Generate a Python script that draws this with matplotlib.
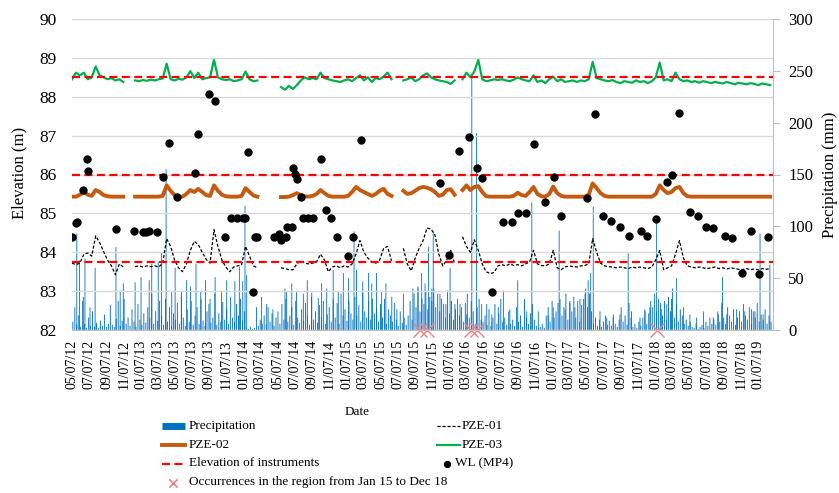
import numpy as np
import pandas as pd
import matplotlib
matplotlib.use('Agg')
import matplotlib.pyplot as plt
import matplotlib.dates as mdates
from matplotlib.lines import Line2D

plt.rcParams['font.family'] = ['Liberation Serif', 'DejaVu Serif']

nan = np.nan
START = '2012-05-07'

# piezometer readings, one every 14 days from START (nan = no record)
pze01 = [83.72, 83.68, 83.72, 83.95, 83.98, 83.90, 84.42, 84.25, 84.02, 83.80, 83.65, 83.42, 83.70, 83.62,
         nan, nan,
         83.63, 83.65, 83.62, 83.65, 83.63, 83.65, 83.62, 83.72, 84.35, 84.15,
         83.80, 83.60, 83.50, 83.70, 84.05, 84.28, 84.20, 84.00, 83.82, 83.72,
         84.58, 84.15, 83.80, 83.62, 83.50, 83.62, 83.65, 83.68, 84.15, 83.90,
         83.65, 83.60,
         nan, nan, nan, nan, nan,
         83.60, 83.58, 83.55, 83.55, 83.70, 83.78, 83.72, 83.70, 83.72, 83.75,
         83.95, 83.80, 83.50, 83.62, 83.65, 83.60, 83.65, 83.62, 83.70, 83.95,
         84.30, 84.00, 83.85, 83.75, 83.72, 83.80, 84.10, 84.15, 83.78,
         nan, nan,
         84.10, 83.70, 83.52, 83.85, 84.10, 84.30, 84.62, 84.60, 84.45, 83.95, 83.65, 83.80, 84.05, 83.70,
         nan,
         84.40, 84.15, 84.00, 84.32, 84.05, 83.70, 83.50, 83.45, 83.48, 83.65,
         83.68, 83.65, 83.70, 83.66, 83.68, 83.65, 83.70, 83.75, 84.05, 83.70,
         83.66, 83.65, 83.70, 84.05, 83.60, 83.55, 83.62, 83.65, 83.63, 83.62,
         83.65, 83.66, 83.70, 84.35, 84.00, 83.72, 83.65, 83.63, 83.62, 83.60,
         83.62, 83.60, 83.58, 83.62, 83.60, 83.62, 83.60, 83.58, 83.62, 83.80,
         84.05, 83.55, 83.60, 83.65, 83.95, 84.30, 83.85, 83.65, 83.62, 83.60,
         83.62, 83.60, 83.58, 83.60, 83.62, 83.58, 83.60, 83.57, 83.60, 83.58,
         83.56, 83.55, 83.58, 83.55, 83.57, 83.55, 83.58, 83.56, 83.58]

pze02 = [85.43, 85.43, 85.48, 85.55, 85.48, 85.45, 85.60, 85.55, 85.47, 85.44, 85.43, 85.43, 85.43, 85.43,
         nan, nan,
         85.43, 85.43, 85.43, 85.43, 85.43, 85.43, 85.43, 85.45, 85.72, 85.58,
         85.47, 85.43, 85.43, 85.50, 85.60, 85.55, 85.63, 85.55, 85.47, 85.45,
         85.72, 85.58, 85.48, 85.44, 85.43, 85.43, 85.43, 85.45, 85.65, 85.55,
         85.46, 85.43,
         nan, nan, nan, nan, nan,
         85.42, 85.42, 85.43, 85.47, 85.52, 85.47, 85.44, 85.43, 85.45, 85.50,
         85.60, 85.52, 85.45, 85.43, 85.43, 85.43, 85.43, 85.45, 85.55, 85.68,
         85.60, 85.55, 85.50, 85.45, 85.50, 85.58, 85.63, 85.50, 85.45,
         nan, nan,
         85.58, 85.50, 85.52, 85.58, 85.65, 85.68, 85.66, 85.62, 85.55, 85.45, 85.48, 85.60, 85.62, 85.48,
         nan,
         85.60, 85.72, 85.60, 85.68, 85.70, 85.55, 85.44, 85.43, 85.43, 85.43,
         85.43, 85.43, 85.43, 85.45, 85.53, 85.47, 85.45, 85.55, 85.68, 85.50,
         85.44, 85.43, 85.50, 85.69, 85.52, 85.45, 85.43, 85.43, 85.43, 85.43,
         85.43, 85.43, 85.48, 85.77, 85.65, 85.52, 85.45, 85.43, 85.43, 85.43,
         85.43, 85.43, 85.43, 85.43, 85.43, 85.43, 85.43, 85.43, 85.43, 85.50,
         85.72, 85.60, 85.52, 85.55, 85.65, 85.68, 85.52, 85.44, 85.43, 85.43,
         85.43, 85.43, 85.43, 85.43, 85.43, 85.43, 85.43, 85.43, 85.43, 85.43,
         85.43, 85.43, 85.43, 85.43, 85.43, 85.43, 85.43, 85.43, 85.43]

pze03 = [88.45, 88.62, 88.55, 88.62, 88.45, 88.50, 88.78, 88.55, 88.50, 88.45, 88.48, 88.42, 88.45, 88.38,
         nan, nan,
         88.42, 88.40, 88.43, 88.41, 88.44, 88.42, 88.45, 88.47, 88.85, 88.45,
         88.42, 88.46, 88.44, 88.50, 88.66, 88.48, 88.62, 88.45, 88.48, 88.50,
         88.95, 88.50, 88.45, 88.43, 88.45, 88.40, 88.42, 88.45, 88.65, 88.45,
         88.40, 88.42,
         nan, nan, nan, nan, nan,
         88.25, 88.18, 88.28, 88.20, 88.30, 88.42, 88.50, 88.45, 88.48, 88.45,
         88.62, 88.48, 88.45, 88.42, 88.40, 88.38, 88.42, 88.45, 88.40, 88.48,
         88.55, 88.42, 88.50, 88.38, 88.48, 88.45, 88.52, 88.62, 88.45,
         nan, nan,
         88.42, 88.45, 88.50, 88.40, 88.45, 88.55, 88.60, 88.50, 88.45, 88.42, 88.40, 88.38, 88.33, 88.42,
         nan,
         88.45, 88.62, 88.50, 88.65, 88.95, 88.45, 88.40, 88.42, 88.45, 88.43,
         88.45, 88.42, 88.40, 88.44, 88.50, 88.45, 88.42, 88.40, 88.55, 88.38,
         88.42, 88.35, 88.45, 88.52, 88.40, 88.45, 88.38, 88.40, 88.42, 88.38,
         88.42, 88.40, 88.45, 88.90, 88.48, 88.45, 88.42, 88.40, 88.43, 88.38,
         88.35, 88.40, 88.38, 88.36, 88.42, 88.38, 88.40, 88.35, 88.40, 88.50,
         88.88, 88.42, 88.45, 88.40, 88.62, 88.45, 88.40, 88.42, 88.38, 88.40,
         88.36, 88.40, 88.38, 88.35, 88.38, 88.36, 88.34, 88.38, 88.35, 88.32,
         88.36, 88.34, 88.32, 88.35, 88.33, 88.30, 88.34, 88.32, 88.30]

# water level in MP4 (days after START, m)
wl_day = [1, 14, 18, 38, 54, 58, 156, 220, 252, 263, 273, 302, 323, 344, 372, 437, 448, 485, 506,
          543, 563, 584, 607, 614, 625, 641, 648, 658, 717, 735, 741, 758, 764, 782, 786, 791, 799,
          812, 821, 838, 854, 884, 900, 920, 942, 981, 996, 1025, 1306, 1338, 1375, 1408, 1436, 1455,
          1489, 1528, 1561, 1582, 1611, 1641, 1680, 1711, 1737, 1829, 1857, 1885, 1913, 1946, 1976,
          2018, 2040, 2073, 2111, 2128, 2155, 2194, 2222, 2249, 2276, 2316, 2342, 2379, 2410, 2437, 2471]
wl_m = [84.40, 84.76, 84.78, 85.60, 86.39, 86.09, 84.61, 84.55, 84.52, 84.53, 84.55, 84.52, 85.94,
        86.80, 85.41, 86.04, 87.04, 88.08, 87.90, 84.40, 84.89, 84.89, 84.89, 84.89, 86.58, 82.98,
        84.40, 84.40, 84.40, 84.46, 84.31, 84.40, 84.64, 84.64, 86.16, 86.02, 85.89, 85.41, 84.89,
        84.89, 84.89, 86.39, 85.08, 84.89, 84.40, 83.90, 84.40, 86.88, 85.79, 83.93, 86.61, 86.96,
        86.17, 85.92, 82.98, 84.79, 84.77, 85.00, 85.01, 86.78, 85.28, 85.94, 84.94, 85.40, 87.56,
        84.94, 84.80, 84.66, 84.42, 84.54, 84.42, 84.86, 85.81, 85.98, 87.57, 85.04, 84.92, 84.65,
        84.62, 84.42, 84.37, 83.47, 84.55, 83.43, 84.40]

# heavy rain days (days after START, mm)
rain_day = [17, 27, 40, 46, 64, 82, 156, 171, 182, 224, 245, 274, 283, 306, 318, 334, 354, 366, 389,
            407, 421, 440, 457, 474, 490, 508, 531, 549, 578, 594, 606, 614, 620, 655, 673, 691, 713,
            756, 762, 780, 797, 821, 835, 851, 874, 886, 904, 927, 945, 963, 981, 1001, 1010, 1032,
            1052, 1064, 1081, 1099, 1114, 1135, 1153, 1176, 1210, 1228, 1241, 1253, 1265, 1277, 1282,
            1306, 1327, 1342, 1359, 1377, 1401, 1419, 1436, 1454, 1472, 1490, 1513, 1531, 1554, 1582,
            1614, 1632, 1655, 1690, 1708, 1729, 1750, 1767, 1785, 1803, 1821, 1832, 1841, 1850, 1874,
            1898, 1921, 1945, 1974, 1986, 2016, 2034, 2051, 2075, 2093, 2111, 2128, 2146, 2170, 2193,
            2217, 2241, 2276, 2294, 2309, 2324, 2359, 2388, 2412, 2424, 2442, 2453, 2477]
rain_mm = [93, 67, 32, 69, 22, 60, 80, 38, 45, 46, 51, 48, 64, 66, 75, 155, 37, 60, 37,
           48, 42, 64, 38, 48, 30, 51, 38, 48, 47, 61, 47, 120, 53, 22, 32, 25, 20,
           40, 37, 45, 37, 35, 48, 36, 31, 45, 40, 58, 37, 55, 50, 95, 58, 47,
           55, 45, 55, 37, 45, 32, 20, 35, 40, 42, 55, 45, 80, 40, 95,
           35, 25, 60, 25, 25, 15, 245, 190, 25, 25, 15, 22, 38, 20, 48,
           18, 123, 18, 14, 22, 96, 20, 28, 22, 30, 35, 48, 55, 119, 18,
           12, 15, 15, 74, 18, 12, 18, 22, 106, 20, 25, 30, 50, 22, 15,
           12, 18, 12, 15, 51, 15, 20, 18, 20, 18, 93, 15, 63]

# lighter rain, one value per week from day 3
rain_week = [8, 22, 5, 14, 3, 28, 6, 2, 12, 4, 18, 3, 7,
             2, 9, 4, 15, 3, 6, 24, 5, 3, 11, 28, 4, 9,
             30, 6, 12, 4, 20, 8, 3, 25, 10, 5, 16, 7, 22,
             12, 35, 6, 18, 9, 28, 14, 5, 30, 8, 22, 4, 16,
             10, 26, 6, 33, 12, 4, 20, 8, 28, 5, 14, 22, 6,
             30, 9, 4, 18, 25, 7, 12, 35, 5, 16, 8, 27, 10,
             20, 6, 32, 12, 8, 25, 14, 30, 9, 18, 2, 1, 3,
             1, 2, 0, 4, 10, 6, 14, 5, 22, 8, 16, 4, 12,
             18, 6, 25, 10, 30, 8, 14, 22, 5, 28, 12, 7, 20,
             9, 26, 14, 5, 32, 10, 18, 7, 24, 12, 28, 6, 15,
             22, 8, 30, 12, 26, 6, 35, 14, 20, 9, 28, 16, 10,
             32, 14, 24, 8, 36, 18, 12, 28, 10, 30, 16, 22, 8,
             25, 12, 30, 6, 20, 14, 8, 26, 10, 4, 18, 7, 12,
             5, 14, 28, 10, 35, 22, 40, 18, 30, 25, 38, 20, 32,
             28, 40, 22, 35, 18, 30, 25, 12, 38, 16, 28, 10, 20,
             30, 14, 22, 8, 26, 35, 12, 28, 18, 6, 22, 30, 10,
             8, 14, 5, 20, 4, 12, 25, 6, 16, 30, 8, 12, 5,
             18, 6, 10, 4, 22, 8, 14, 3, 30, 12, 6, 16, 25,
             10, 4, 2, 3, 6, 2, 14, 22, 8, 28, 12, 18, 26,
             30, 14, 22, 35, 10, 26, 18, 32, 12, 28, 8, 24, 30,
             40, 22, 35, 18, 6, 12, 4, 10, 3, 8, 14, 5, 9,
             4, 12, 6, 3, 10, 22, 8, 14, 5, 26, 12, 3, 6,
             2, 8, 4, 12, 20, 6, 16, 28, 22, 35, 18, 30, 26,
             14, 28, 10, 32, 18, 40, 12, 25, 8, 20, 14, 6, 10,
             4, 8, 3, 2, 6, 1, 3, 5, 2, 8, 4, 12, 6,
             10, 5, 18, 8, 26, 12, 6, 22, 14, 8, 20, 5, 12,
             18, 8, 25, 14, 10, 22, 6, 18, 12, 26, 8, 15, 10,
             20, 6, 14, 8]

instrument_elev = [88.5, 86.0, 83.75]
occ_day = [1235, 1260, 1416, 1437, 2076]   # occurrences Jan 15 - Dec 18
x_end = '2019-02-28'

start = pd.Timestamp(START)
pze_dates = pd.date_range(START, periods=len(pze01), freq='14D')
week_dates = pd.date_range(start + pd.Timedelta(days=3), periods=len(rain_week), freq='7D')
to_date = lambda d: start + pd.to_timedelta(d, unit='D')
tick_dates = pd.date_range(START, '2019-01-07', freq=pd.DateOffset(months=2))

W, H = 839, 493
fig = plt.figure(figsize=(W / 100, H / 100), dpi=100)
ax = fig.add_axes([72 / W, 1 - 330 / H, 701 / W, 311 / H])
ax2 = ax.twinx()
ax.set_zorder(ax2.get_zorder() + 1)   # lines above the rain bars
ax.patch.set_visible(False)

# precipitation on the right axis (thin bars, no pixel snapping so none vanish)
ax2.bar(week_dates, rain_week, width=3.2, color='#0070C0', linewidth=0, snap=False)
ax2.bar(to_date(rain_day), rain_mm, width=3.0, color='#0070C0', linewidth=0, snap=False)
ax2.set_ylim(0, 300)
ax2.set_yticks(range(0, 301, 50))

# elevations on the left axis
ax.plot(pze_dates, pze03, color='#00B050', lw=1.6)
ax.plot(pze_dates, pze02, color='#C55A11', lw=2.8)
ax.plot(pze_dates, pze01, color='black', lw=0.9, dashes=(2.5, 1.5))
for el in instrument_elev:
    ax.axhline(el, color='#FF0000', lw=1.6, dashes=(3.6, 2.0))
ax.plot(to_date(wl_day), wl_m, 'o', color='black', ms=5)
ax.plot(to_date(occ_day), [82] * len(occ_day), 'x', color='#F08080', ms=10, mew=1.0, clip_on=False)

ax.set_ylim(82, 90)
ax.set_yticks(range(82, 91))
ax.set_xlim(start, pd.Timestamp(x_end))
ax.set_xticks(tick_dates)
ax.xaxis.set_major_formatter(mdates.DateFormatter('%m/%d/%y'))
ax.yaxis.grid(True, color='#d9d9d9', lw=1)
ax.set_axisbelow(True)

for s in ['top', 'left', 'right']:
    ax.spines[s].set_visible(False)
ax.spines['bottom'].set_color('#bfbfbf')
for s in ['top', 'left', 'bottom']:
    ax2.spines[s].set_visible(False)
ax2.spines['right'].set_color('#bfbfbf')

ax.tick_params(axis='x', labelrotation=90, length=0, pad=7, labelsize=10)
ax.tick_params(axis='y', length=0, pad=11, labelsize=12.5)
ax2.tick_params(axis='y', length=5, color='#bfbfbf', pad=6, labelsize=12)

# axis titles
fx = lambda p: p / W
fy = lambda p: 1 - p / H
fig.text(fx(19), fy(173), 'Elevation (m)', rotation=90, ha='center', va='center', fontsize=12)
fig.text(fx(830), fy(175), 'Precipitation (mm)', rotation=90, ha='center', va='center', fontsize=12)
fig.text(fx(357), fy(412), 'Date', ha='center', va='center', fontsize=9.5)

# legend, laid out like the original
def handle(x0, x1, y, **kw):
    fig.add_artist(Line2D([fx(x0), fx(x1)], [fy(y), fy(y)], transform=fig.transFigure, **kw))

def label(x, y, s):
    fig.text(fx(x), fy(y), s, ha='left', va='center', fontsize=9.5)

rows = [426, 445, 463.5, 482.5]
handle(162, 185, rows[0], color='#0070C0', lw=5, solid_capstyle='butt')
label(189, rows[0], 'Precipitation')
handle(162, 185, rows[1], color='#C55A11', lw=2.8)
label(189, rows[1], 'PZE-02')
handle(162, 185, rows[2], color='#FF0000', lw=1.6, dashes=(3.6, 2.0))
label(189, rows[2], 'Elevation of instruments')
handle(173, 173, rows[3], color='#F08080', marker='x', ms=6, mew=0.9, linestyle='none')
label(189, rows[3], 'Occurrences in the region from Jan 15 to Dec 18')
handle(437, 460, rows[0], color='black', lw=0.9, dashes=(2.5, 1.5))
label(462, rows[0], 'PZE-01')
handle(437, 460, rows[1], color='#00B050', lw=1.6)
label(462, rows[1], 'PZE-03')
handle(447, 447, rows[2], color='black', marker='o', ms=4, linestyle='none')
label(455, rows[2], 'WL (MP4)')

plt.savefig('out.png', dpi=100)
